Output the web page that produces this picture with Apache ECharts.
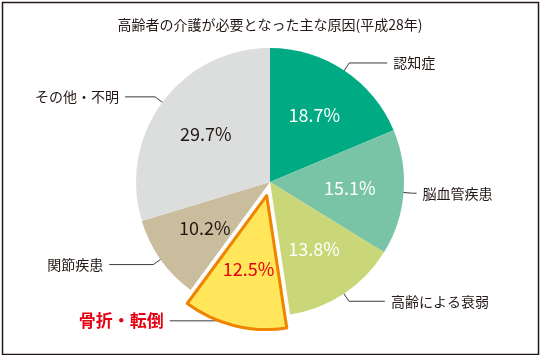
<!DOCTYPE html>
<html><head><meta charset="utf-8">
<script src="https://cdn.jsdelivr.net/npm/echarts@6/dist/echarts.min.js"></script>
<style>html,body{margin:0;padding:0;background:#fff}#c{width:540px;height:355px}</style>
</head><body><div id="c"></div>
<script>
const titleText = '高齢者の介護が必要となった主な原因(平成28年)';
const categories = ['認知症','脳血管疾患','高齢による衰弱','骨折・転倒','関節疾患','その他・不明'];
const values = [18.7, 15.1, 13.8, 12.5, 10.2, 29.7];
const colors = ['#00ab83','#79c4a6','#c9d778','#ffe65a','#c9bd9e','#dcdddd'];
const pctColors = ['#ffffff','#ffffff','#ffffff','#e60012','#231815','#231815'];
const highlightIndex = 3;
const lineLen2 = [38, 4, 36, 66, 44, 30];

const FONT = '"Noto Sans CJK JP", "Noto Sans", sans-serif';
const center = [270, 182];
const R = 134;
const OFF = 14;

const mainData = categories.map((n, i) => ({
  name: n, value: values[i], selected: i === highlightIndex,
  itemStyle: i === highlightIndex
    ? { color: colors[i], borderColor: '#f08300', borderWidth: 3, borderJoin: 'round' }
    : { color: colors[i], borderWidth: 0 }
}));
const pctData = categories.map((n, i) => ({
  name: n, value: values[i], selected: i === highlightIndex,
  itemStyle: { color: 'rgba(0,0,0,0)' },
  label: { color: pctColors[i] }
}));
const nameData = categories.map((n, i) => {
  const d = { name: n, value: values[i], itemStyle: { color: 'rgba(0,0,0,0)' },
    labelLine: { length: 37, length2: lineLen2[i] } };
  if (i === highlightIndex) {
    d.label = { color: '#e60012', fontWeight: 'bold', fontSize: 17 };
  }
  return d;
});

const chart = echarts.init(document.getElementById('c'), null, { renderer: 'canvas' });
chart.setOption({
  animation: false,
  backgroundColor: '#ffffff',
  title: {
    text: titleText, left: 'center', top: 13,
    textStyle: { fontFamily: FONT, fontSize: 14, fontWeight: 'normal', color: '#231815' }
  },
  graphic: [{
    type: 'rect', left: 0, top: 0, silent: true,
    shape: { x: 0.75, y: 0.75, width: 536, height: 352 },
    style: { fill: 'none', stroke: '#231815', lineWidth: 1.5 }
  }],
  series: [
    {
      type: 'pie', center: center, radius: [0, R], startAngle: 90, clockwise: true,
      selectedMode: 'single', selectedOffset: OFF, silent: true,
      emphasis: { disabled: true },
      select: { itemStyle: { borderColor: '#f08300', borderWidth: 3 } },
      label: { show: false }, labelLine: { show: false },
      data: mainData
    },
    {
      type: 'pie', center: center, radius: [0, 154], startAngle: 90, clockwise: true,
      selectedMode: 'single', selectedOffset: 10, silent: true,
      emphasis: { disabled: true },
      label: {
        show: true, position: 'inside', fontFamily: FONT, fontSize: 18,
        formatter: p => p.value.toFixed(1) + '%'
      },
      labelLine: { show: false },
      data: pctData
    },
    {
      type: 'pie', center: center, radius: [0, 106], startAngle: 90, clockwise: true,
      silent: true, emphasis: { disabled: true }, avoidLabelOverlap: false,
      label: {
        show: true, position: 'outside', fontFamily: FONT, fontSize: 14, color: '#231815',
        distanceToLabelLine: 6, formatter: '{b}'
      },
      labelLine: { show: true, smooth: false,
        lineStyle: { color: '#3e3a39', width: 1 } },
      data: nameData
    }
  ]
});
</script></body></html>
